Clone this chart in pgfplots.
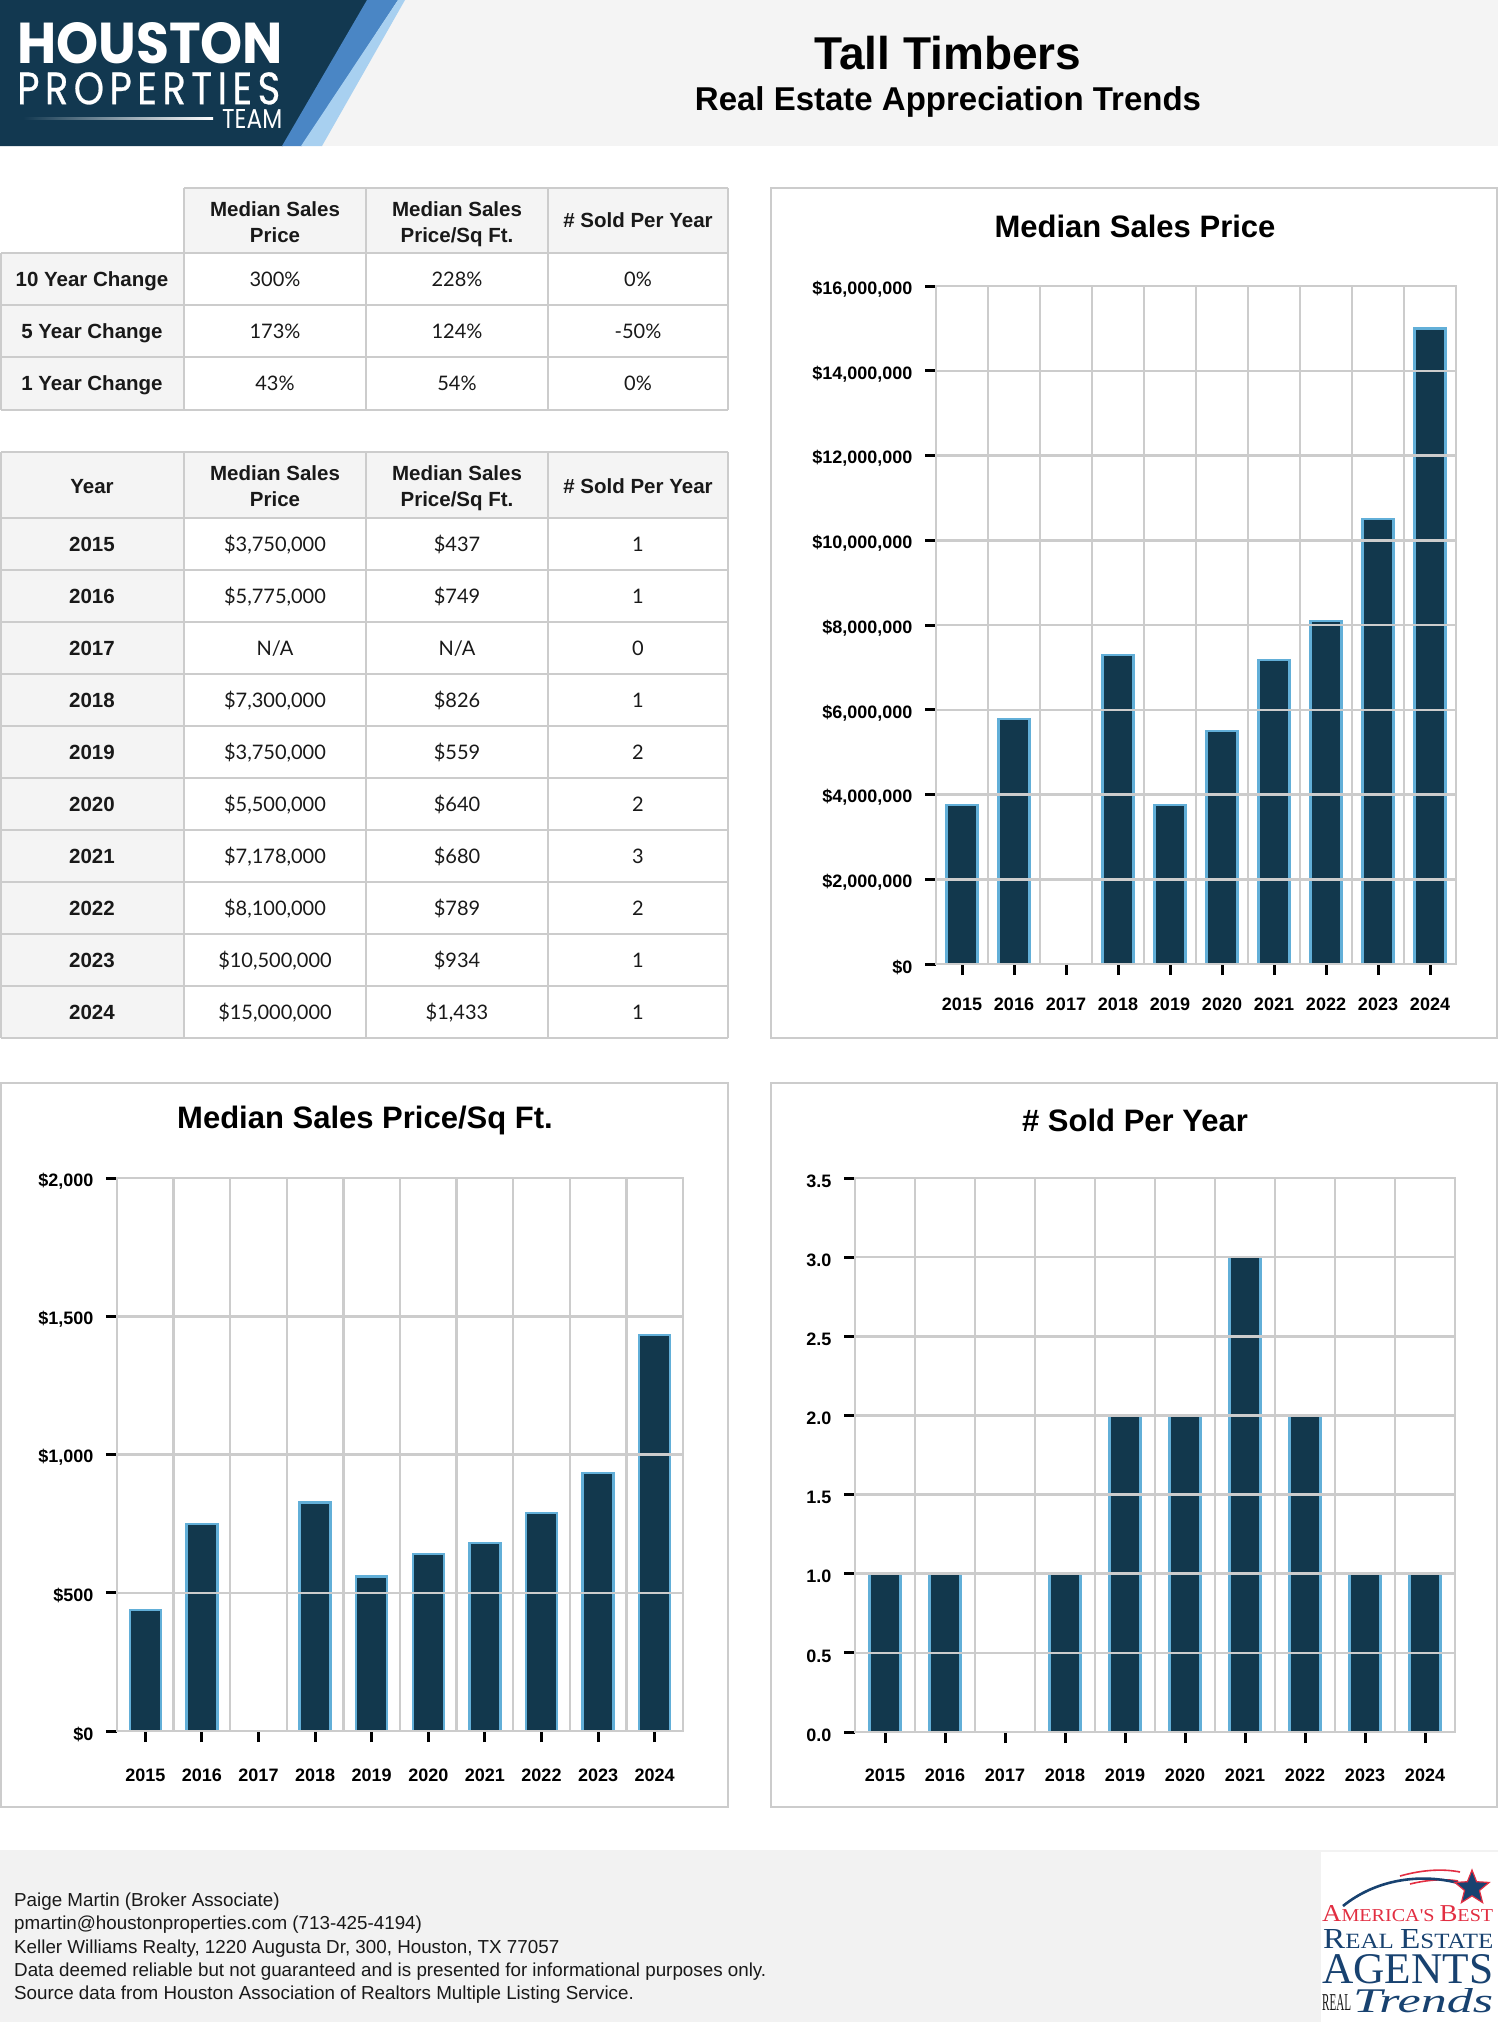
\documentclass[border=0pt]{standalone}
\usepackage{fontspec}
\usepackage{graphicx}
\usepackage{pgfplots}
\pgfplotsset{compat=1.18}
\usetikzlibrary{shapes.geometric}
\setmainfont{Liberation Sans}
\newfontfamily\lato{Lato}
\newfontfamily\logofont{Poppins}
\newfontfamily\logospaced[LetterSpace=14]{Poppins}
\newfontfamily\serifA{Liberation Serif}

\definecolor{navy}{RGB}{18,56,77}
\definecolor{logonavy}{RGB}{18,56,80}
\definecolor{barline}{RGB}{98,175,216}
\definecolor{gridgray}{RGB}{204,204,204}
\definecolor{band}{RGB}{244,244,244}
\definecolor{footband}{RGB}{242,242,242}
\definecolor{logoblue}{RGB}{74,134,197}
\definecolor{logolight}{RGB}{168,208,240}
\definecolor{abred}{RGB}{226,46,66}
\definecolor{abnavy}{RGB}{24,66,112}
\definecolor{ink}{RGB}{25,25,25}

% header / row label / data cell text, all placed on their baseline
\newcommand{\hd}[3]{\node[anchor=base, text=ink, font=\fontsize{20.5}{22}\selectfont\bfseries] at (#1,#2) {#3};}
\newcommand{\dc}[3]{\node[anchor=base, text=ink, font=\fontsize{20}{22}\selectfont\lato] at (#1,#2) {#3};}

\pgfplotsset{
  hp/.style={
    scale only axis,
    ybar, bar width=31pt,
    ymin=0,
    xmin=-0.5, xmax=9.5,
    xtick={0,...,9},
    xticklabels={2015,2016,2017,2018,2019,2020,2021,2022,2023,2024},
    minor xtick={0.5,1.5,...,8.5},
    xminorgrids=true, ymajorgrids=true,
    major grid style={draw=gridgray, line width=2.5pt},
    minor grid style={draw=gridgray, line width=2.5pt},
    axis line style={draw=gridgray, line width=2.5pt},
    major tick length=11pt, minor tick length=0pt,
    tick align=outside,
    xtick pos=bottom, ytick pos=left,
    major tick style={black, line width=3pt},
    scaled y ticks=false,
    axis on top,
    ticklabel style={font=\fontsize{18}{20}\selectfont\bfseries, text=black},
    yticklabel style={xshift=-9pt, yshift=-3pt},
  },
  hpbar/.style={fill=navy, draw=barline, line width=2.3pt},
}

\begin{document}
\begin{tikzpicture}
\path[use as bounding box, fill=white] (0,0) rectangle (1498pt,-2022pt);

\begin{scope}[x=1pt, y=-1pt]
% ---------- header band and logo ----------
\fill[band] (0,0) rectangle (1498,146);
\fill[logonavy] (0,0) -- (368,0) -- (283,146) -- (0,146) -- cycle;
\fill[logoblue] (367,0) -- (398,0) -- (302,146) -- (282,146) -- cycle;
\fill[logolight] (398,0) -- (405,0) -- (322,146) -- (301,146) -- cycle;
\node[anchor=north west, inner sep=0, text=white] at (17,22)
  {\resizebox{266pt}{41pt}{\logofont\bfseries HOUSTON}};
\node[anchor=north west, inner sep=0, text=white] at (17,72)
  {\resizebox{263pt}{32pt}{\logospaced\addfontfeatures{FakeBold=0.6} PROPERTIES}};
\node[anchor=north west, inner sep=0, text=white] at (222,109)
  {\resizebox{60pt}{19pt}{\logofont TEAM}};
\shade[left color=logonavy, right color=white] (23,117) rectangle (213,119.5);

\node[anchor=base, font=\fontsize{46}{50}\selectfont\bfseries] at (948,69) {Tall Timbers};
\node[anchor=base, font=\fontsize{33}{36}\selectfont\bfseries] at (948,110) {Real Estate Appreciation Trends};

% ---------- table 1 ----------
\fill[band] (184,188) rectangle (728,253);
\fill[band] (1,253) rectangle (184,410);
\begin{scope}[draw=gridgray, line width=2.2pt]
  \draw (184,188) -- (728,188);
  \foreach \yy in {253,305,357,410} \draw (1,\yy) -- (728,\yy);
  \foreach \xx in {184,366,548,728} \draw (\xx,188) -- (\xx,410);
  \draw (1,253) -- (1,410);
\end{scope}
\hd{275}{216.5}{Median Sales}
\hd{275}{242.5}{Price}
\hd{457}{216.5}{Median Sales}
\hd{457}{242.5}{Price/Sq Ft.}
\hd{638}{227.5}{\# Sold Per Year}
\foreach \lab/\a/\b/\c [count=\i from 0] in {10 Year Change/300\%/228\%/0\%, 5 Year Change/173\%/124\%/-50\%, 1 Year Change/43\%/54\%/0\%}{
  \pgfmathsetmacro{\bl}{279+52*\i+7.3}
  \hd{92}{\bl}{\lab}
  \dc{275}{\bl}{\a}
  \dc{457}{\bl}{\b}
  \dc{638}{\bl}{\c}
}

% ---------- table 2 ----------
\fill[band] (1,452) rectangle (728,518);
\fill[band] (1,518) rectangle (184,1038);
\begin{scope}[draw=gridgray, line width=2.2pt]
  \foreach \yy in {452,518,570,622,674,726,778,830,882,934,986,1038} \draw (1,\yy) -- (728,\yy);
  \foreach \xx in {1,184,366,548,728} \draw (\xx,452) -- (\xx,1038);
\end{scope}
\hd{92}{493}{Year}
\hd{275}{480.5}{Median Sales}
\hd{275}{506.5}{Price}
\hd{457}{480.5}{Median Sales}
\hd{457}{506.5}{Price/Sq Ft.}
\hd{638}{493}{\# Sold Per Year}
\def\na{N/A}
\foreach \yr/\p/\q/\n [count=\i from 0] in {
  2015/{\$3,750,000}/\$437/1,
  2016/{\$5,775,000}/\$749/1,
  2017/\na/\na/0,
  2018/{\$7,300,000}/\$826/1,
  2019/{\$3,750,000}/\$559/2,
  2020/{\$5,500,000}/\$640/2,
  2021/{\$7,178,000}/\$680/3,
  2022/{\$8,100,000}/\$789/2,
  2023/{\$10,500,000}/\$934/1,
  2024/{\$15,000,000}/{\$1,433}/1}{
  \pgfmathsetmacro{\bl}{544+52*\i+7.3}
  \hd{92}{\bl}{\yr}
  \dc{275}{\bl}{\p}
  \dc{457}{\bl}{\q}
  \dc{638}{\bl}{\n}
}

% ---------- chart panels ----------
\begin{scope}[draw=gridgray, line width=2.5pt]
  \draw (771,188) rectangle (1497,1038);
  \draw (1.2,1083) rectangle (728,1807);
  \draw (771,1083) rectangle (1497,1807);
\end{scope}
\node[font=\fontsize{31}{33}\selectfont\bfseries] at (1135,226) {Median Sales Price};
\node[font=\fontsize{31}{33}\selectfont\bfseries] at (365,1120) {Median Sales Price/Sq Ft.};
\node[font=\fontsize{31}{33}\selectfont\bfseries] at (1135,1120) {\# Sold Per Year};

% ---------- footer ----------
\fill[footband] (0,1850) rectangle (1498,2022);
\begin{scope}[every node/.style={anchor=base west, inner sep=0, text=ink, font=\fontsize{18.8}{20}\selectfont}]
  \node at (14,1906.5) {Paige Martin (Broker Associate)};
  \node at (14,1929.5) {pmartin@houstonproperties.com (713-425-4194)};
  \node at (14,1953.5) {Keller Williams Realty, 1220 Augusta Dr, 300, Houston, TX 77057};
  \node at (14,1976.5) {Data deemed reliable but not guaranteed and is presented for informational purposes only.};
  \node at (14,1999.5) {Source data from Houston Association of Realtors Multiple Listing Service.};
\end{scope}

% ---------- award logo ----------
\fill[white] (1321,1852) rectangle (1498,2022);
\draw[abred, line width=1.6pt] (1400,1876) .. controls (1425,1869) and (1445,1869) .. (1460,1872);
\draw[abred, line width=1.6pt] (1410,1884) .. controls (1430,1879) and (1448,1879) .. (1458,1881);
\draw[abnavy, line width=2.6pt] (1343,1906) .. controls (1375,1880) and (1420,1872) .. (1462,1884);
\node[star, star points=5, star point ratio=2.3, fill=abnavy, draw=abred, line width=1.2pt, minimum size=36pt, inner sep=0] at (1472,1888) {};
\node[anchor=north west, inner sep=0, text=abred] at (1322,1905)
  {\resizebox{171pt}{16pt}{\serifA\fontsize{20}{20}\selectfont A\fontsize{15}{15}\selectfont MERICA'S \fontsize{20}{20}\selectfont B\fontsize{15}{15}\selectfont EST}};
\node[anchor=north west, inner sep=0, text=abnavy] at (1323,1929)
  {\resizebox{170pt}{19pt}{\serifA\fontsize{20}{20}\selectfont R\fontsize{15}{15}\selectfont EAL \fontsize{20}{20}\selectfont E\fontsize{15}{15}\selectfont STATE}};
\node[anchor=north west, inner sep=0, text=abnavy] at (1322,1954)
  {\resizebox{171pt}{29pt}{\serifA AGENTS}};
\node[anchor=north west, inner sep=0, text=ink] at (1322,1994)
  {\resizebox{29pt}{16pt}{\serifA REAL}};
\node[anchor=north west, inner sep=0, text=abnavy] at (1353,1988)
  {\resizebox{140pt}{24pt}{\serifA\itshape Trends}};
\end{scope}

% ---------- Median Sales Price ----------
\begin{axis}[hp, at={(936pt,-964pt)}, anchor=south west, width=520pt, height=678pt,
  xticklabel style={yshift=-19pt},
  ymax=16000000,
  ytick={0,2000000,4000000,6000000,8000000,10000000,12000000,14000000,16000000},
  yticklabels={\$0,{\$2,000,000},{\$4,000,000},{\$6,000,000},{\$8,000,000},{\$10,000,000},{\$12,000,000},{\$14,000,000},{\$16,000,000}}]
\addplot[hpbar] coordinates {(0,3750000) (1,5775000) (3,7300000) (4,3750000) (5,5500000) (6,7178000) (7,8100000) (8,10500000) (9,15000000)};
\draw[black, line width=2pt] ([xshift=-3pt]rel axis cs:0,0) -- ([xshift=-3pt]rel axis cs:0,1);
\end{axis}

% ---------- Median Sales Price/Sq Ft. ----------
\begin{axis}[hp, at={(117pt,-1731pt)}, anchor=south west, width=566pt, height=553pt,
  xticklabel style={yshift=-23pt},
  ymax=2000, ytick={0,500,1000,1500,2000},
  yticklabels={\$0,\$500,{\$1,000},{\$1,500},{\$2,000}}]
\addplot[hpbar] coordinates {(0,437) (1,749) (3,826) (4,559) (5,640) (6,680) (7,789) (8,934) (9,1433)};
\end{axis}

% ---------- # Sold Per Year ----------
\begin{axis}[hp, at={(855pt,-1732pt)}, anchor=south west, width=600pt, height=554pt,
  xticklabel style={yshift=-22pt},
  ymax=3.5, ytick={0,0.5,1,1.5,2,2.5,3,3.5},
  yticklabels={0.0,0.5,1.0,1.5,2.0,2.5,3.0,3.5}]
\addplot[hpbar] coordinates {(0,1) (1,1) (3,1) (4,2) (5,2) (6,3) (7,2) (8,1) (9,1)};
\end{axis}
\end{tikzpicture}
\end{document}
